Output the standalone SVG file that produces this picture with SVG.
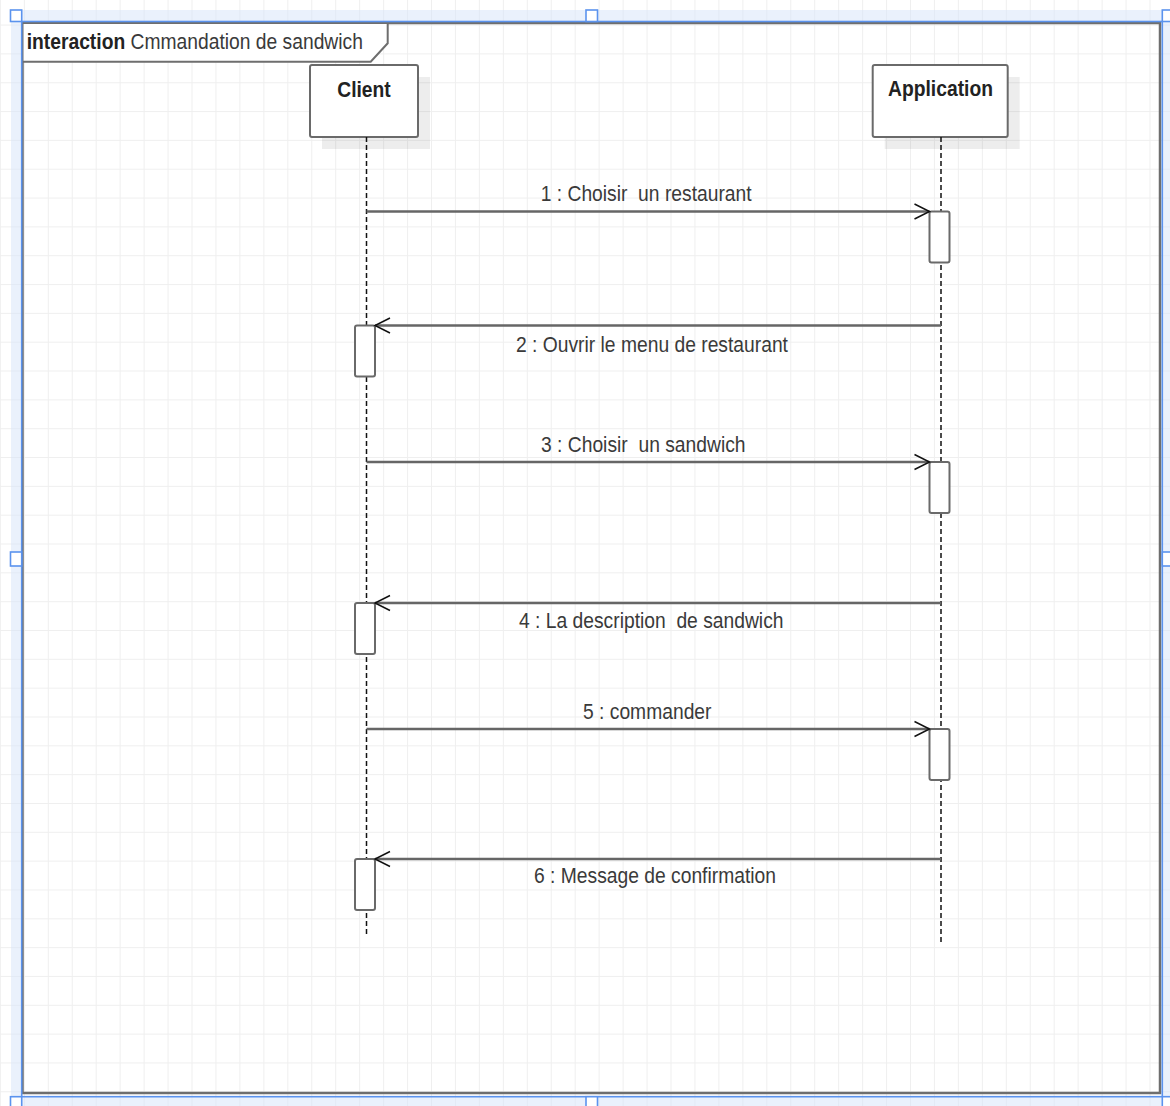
<svg xmlns="http://www.w3.org/2000/svg" width="1170" height="1106" viewBox="0 0 1170 1106">
  <style>
    .txt { font-family: "Liberation Sans", Arial, sans-serif; font-size: 22px; fill: #3a3a3a; }
    .bold { font-weight: bold; fill: #222; }
    .box { fill: #ffffff; stroke: #6a6a6a; stroke-width: 2; }
    .shadow { fill: #000000; fill-opacity: 0.07; }
    .life { stroke: #111; stroke-width: 1.5; stroke-dasharray: 5 3; fill: none; }
    .act { fill: #ffffff; stroke: #6a6a6a; stroke-width: 2; }
    .msg { stroke: #666666; stroke-width: 2.4; fill: none; marker-end: url(#open); }
    .sel { fill: none; stroke: #5b93ee; stroke-width: 1.6; }
    .band { fill: #d6e4fa; fill-opacity: 0.5; }
    .handle { fill: #ffffff; stroke: #5b93ee; stroke-width: 1.6; }
  </style>
  <defs>
    <pattern id="grid" patternUnits="userSpaceOnUse" x="47.8" y="53.4" width="23.95" height="28.83">
      <path d="M0 0.5 H23.95 M0.5 0 V28.83" stroke="#efefef" stroke-width="1" fill="none"/>
    </pattern>
    <marker id="open" viewBox="-17 -10 19 20" refX="0" refY="0" markerWidth="19" markerHeight="20" markerUnits="userSpaceOnUse" orient="auto">
      <path d="M-15,-7.5 L0,0 L-15,7.5" fill="none" stroke="#111" stroke-width="1.5"/>
    </marker>
  </defs>

  <!-- canvas background and grid -->
  <rect x="0" y="0" width="1170" height="1106" fill="#ffffff"/>
  <rect x="0" y="0" width="1170" height="1106" fill="url(#grid)"/>

  <!-- selection band around the frame -->
  <g id="selection-band">
    <path class="band" fill-rule="evenodd" d="M11 10 H1170 V1106 H11 Z M21.7 21.5 H1162.3 V1096.7 H21.7 Z"/>
  </g>

  <!-- interaction frame -->
  <g id="frame">
    <rect x="22.5" y="23" width="1137.5" height="1070" fill="none" stroke="#6e6e6e" stroke-width="2.5"/>
    <path d="M22.5 23 H387.7 V43.3 L370.7 61.7 H22.5 Z" fill="#ffffff" stroke="#6e6e6e" stroke-width="2"/>
    <text class="txt" transform="translate(26.7 49) scale(0.876 1)"><tspan class="bold">interaction</tspan> Cmmandation de sandwich</text>
  </g>

  <!-- lifelines -->
  <g id="client">
    <rect class="shadow" x="322" y="77" width="108" height="72"/>
    <rect class="box" x="310" y="65" width="108" height="72" rx="2"/>
    <text class="txt bold" text-anchor="middle" transform="translate(364 96.7) scale(0.876 1)">Client</text>
    <line class="life" x1="366.5" y1="137" x2="366.5" y2="935"/>
  </g>
  <g id="application">
    <rect class="shadow" x="884.7" y="77" width="135" height="72"/>
    <rect class="box" x="872.7" y="65" width="135" height="72" rx="2"/>
    <text class="txt bold" text-anchor="middle" transform="translate(940.5 96) scale(0.876 1)">Application</text>
    <line class="life" x1="941" y1="137" x2="941" y2="945"/>
  </g>

  <!-- activation bars -->
  <g id="activations">
    <rect class="act" x="929.5" y="211.5" width="20" height="51" rx="2"/>
    <rect class="act" x="355" y="325.5" width="20" height="51" rx="2"/>
    <rect class="act" x="929.5" y="462" width="20" height="51" rx="2"/>
    <rect class="act" x="355" y="603" width="20" height="51" rx="2"/>
    <rect class="act" x="929.5" y="729" width="20" height="51" rx="2"/>
    <rect class="act" x="355" y="859" width="20" height="51" rx="2"/>
  </g>

  <!-- messages -->
  <g id="connectors">
    <line class="msg" x1="366.5" y1="211.5" x2="929.5" y2="211.5"/>
    <line class="msg" x1="941" y1="325.5" x2="375" y2="325.5"/>
    <line class="msg" x1="366.5" y1="462" x2="929.5" y2="462"/>
    <line class="msg" x1="941" y1="603" x2="375" y2="603"/>
    <line class="msg" x1="366.5" y1="729" x2="929.5" y2="729"/>
    <line class="msg" x1="941" y1="859" x2="375" y2="859"/>
  </g>

  <g id="message-labels">
    <text class="txt" transform="translate(540.7 201) scale(0.876 1)" xml:space="preserve">1 : Choisir  un restaurant</text>
    <text class="txt" transform="translate(516 351.7) scale(0.876 1)">2 : Ouvrir le menu de restaurant</text>
    <text class="txt" transform="translate(541 452) scale(0.876 1)" xml:space="preserve">3 : Choisir  un sandwich</text>
    <text class="txt" transform="translate(519 627.7) scale(0.876 1)" xml:space="preserve">4 : La description  de sandwich</text>
    <text class="txt" transform="translate(583 719) scale(0.876 1)">5 : commander</text>
    <text class="txt" transform="translate(534 882.7) scale(0.876 1)">6 : Message de confirmation</text>
  </g>

  <!-- selection outline and handles -->
  <g id="selection">
    <rect class="sel" x="21.7" y="21.5" width="1140.6" height="1075.2"/>
    <rect class="handle" x="10.5" y="10" width="11.2" height="11.5"/>
    <rect class="handle" x="1162.3" y="10" width="11.2" height="11.5"/>
    <rect class="handle" x="10.5" y="1096.7" width="11.2" height="11.5"/>
    <rect class="handle" x="1162.3" y="1096.7" width="11.2" height="11.5"/>
    <rect class="handle" x="10.5" y="552" width="11.2" height="14"/>
    <rect class="handle" x="1162.3" y="552" width="11.2" height="14"/>
    <rect class="handle" x="586" y="10" width="11.5" height="11.5"/>
    <rect class="handle" x="586" y="1096.7" width="11.5" height="11.5"/>
  </g>
</svg>
